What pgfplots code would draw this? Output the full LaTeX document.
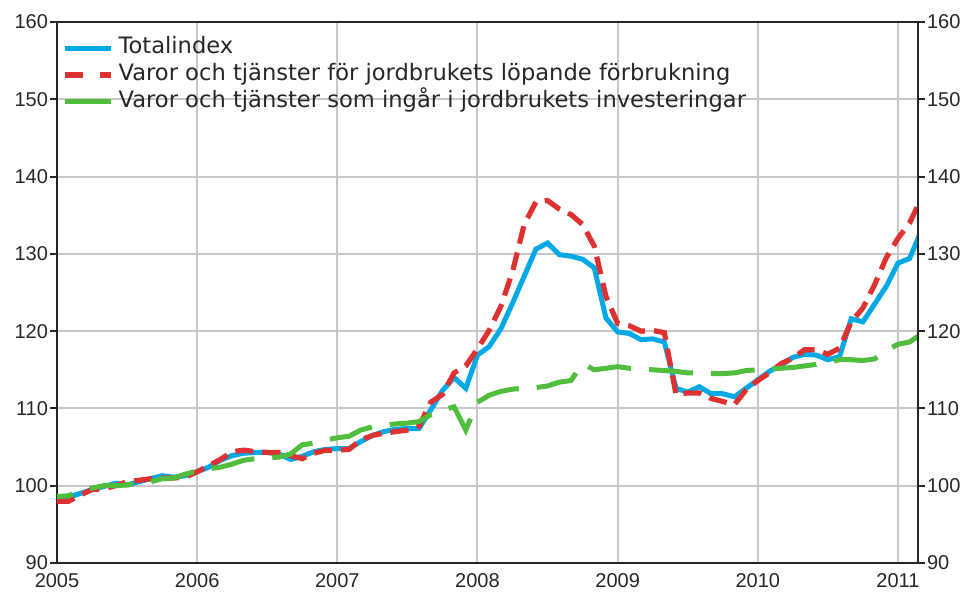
\documentclass[border=0pt]{standalone}
\usepackage{pgfplots}
\pgfplotsset{compat=1.18}
\usepackage{pgfplotstable}
\usepackage{fontspec}
\setmainfont{Liberation Sans}
\newfontfamily\legfont{DejaVu Sans}
\definecolor{cblue}{RGB}{0,168,230}
\definecolor{cred}{RGB}{222,50,50}
\definecolor{cgreen}{RGB}{80,190,60}
\definecolor{cgrid}{RGB}{200,200,200}

% m = month index from January 2005 (0) to March 2011 (74)
\pgfplotstableread{
m total lop inv
0 98.0 98.0 98.6
1 98.5 98.0 98.7
2 99.0 98.8 99.3
3 99.5 99.5 99.7
4 99.9 99.6 100.0
5 100.3 100.0 100.0
6 100.1 100.5 100.1
7 100.5 100.7 100.3
8 100.9 100.9 100.5
9 101.3 101.0 100.9
10 101.1 101.0 101.0
11 101.3 101.1 101.5
12 101.8 101.8 101.9
13 102.4 102.6 102.2
14 103.3 103.4 102.4
15 103.9 104.4 102.8
16 104.2 104.6 103.3
17 104.3 104.4 103.5
18 104.3 104.3 103.6
19 104.1 104.3 103.7
20 103.4 103.9 104.1
21 103.8 103.5 105.3
22 104.4 104.2 105.5
23 104.7 104.6 105.9
24 104.8 104.6 106.2
25 104.8 104.7 106.4
26 105.7 105.9 107.2
27 106.5 106.5 107.6
28 107.0 106.8 107.8
29 107.3 107.0 108.0
30 107.4 107.2 108.1
31 107.4 107.7 108.3
32 109.8 110.8 109.2
33 112.3 111.8 109.8
34 114.0 114.6 110.2
35 112.6 115.5 107.2
36 116.9 117.7 110.8
37 118.0 120.1 111.7
38 120.3 123.2 112.2
39 123.6 127.7 112.5
40 127.1 133.8 112.6
41 130.6 136.7 112.7
42 131.4 136.9 112.9
43 129.9 135.8 113.4
44 129.7 135.1 113.6
45 129.3 133.8 115.8
46 128.2 131.0 115.0
47 121.7 124.5 115.2
48 119.9 121.0 115.4
49 119.7 120.7 115.2
50 118.9 120.0 115.1
51 119.0 120.1 115.0
52 118.6 119.8 114.9
53 112.6 111.8 114.8
54 112.1 112.0 114.6
55 112.8 112.0 114.6
56 111.9 111.3 114.5
57 111.9 110.9 114.5
58 111.5 110.5 114.6
59 112.6 112.4 114.9
60 113.7 113.6 115.0
61 114.8 114.6 115.1
62 115.6 115.8 115.2
63 116.6 116.5 115.3
64 117.0 117.6 115.5
65 116.9 117.6 115.7
66 116.3 117.0 116.0
67 116.7 117.8 116.3
68 121.6 121.2 116.3
69 121.2 123.0 116.2
70 123.5 126.0 116.4
71 125.8 129.5 117.5
72 128.8 132.0 118.3
73 129.4 134.0 118.6
74 133.0 137.2 119.6
}\data

\pgfplotsset{
  common/.style={
    scale only axis, width=430.5pt, height=270.5pt,
    xmin=2005, xmax=2011.143, ymin=90, ymax=160,
    ytick={90,100,...,160},
    /pgf/number format/1000 sep={},
    /pgf/number format/assume math mode=true,
    ticklabel style={font=\fontsize{10}{12}\selectfont, text=black!85},
    tick align=outside, major tick length=3.5pt,
    tick style={black!85, line width=1pt},
    axis line style={black!85, line width=1pt},
  }
}

\begin{document}
\begin{tikzpicture}
\begin{axis}[common,
  xtick={2005,2006,...,2011},
  ytick pos=left,
  xtick style={draw=none},
  xticklabel shift=-2pt,
  yticklabel shift=-2.5pt,
  grid=major, major grid style={cgrid, line width=1pt},
  legend style={at={(0,1)}, anchor=north west, xshift=2.5pt, yshift=-6.2pt,
    draw=none, fill=none, inner xsep=0pt, inner ysep=0pt,
    font=\legfont\fontsize{11.3}{13.6}\selectfont, row sep=0pt, column sep=2.5pt,
    nodes={inner sep=0pt, text height=9.4pt, text depth=4.0pt, text=black!85}},
  legend cell align=left,
  legend image code/.code={\draw[#1] (0pt,0pt) -- (23pt,0pt);},
]
\addlegendimage{cblue, line width=2.5pt}
\addlegendentry{Totalindex}
\addlegendimage{cred, line width=2.6pt, dash pattern=on 9pt off 8.5pt}
\addlegendentry{Varor och tjänster för jordbrukets löpande förbrukning}
\addlegendimage{cgreen, line width=2.5pt}
\addlegendentry{Varor och tjänster som ingår i jordbrukets investeringar}

\addplot[cblue, line width=2.5pt, forget plot] table[x expr=2005+\thisrow{m}/12, y=total] {\data};
\addplot[cred, line width=2.6pt, dash pattern=on 9pt off 4.5pt, forget plot] table[x expr=2005+\thisrow{m}/12, y=lop] {\data};
\addplot[cgreen, line width=2.5pt, dash pattern=on 22pt off 9pt, dash phase=14pt, forget plot] table[x expr=2005+\thisrow{m}/12, y=inv] {\data};
\end{axis}
\begin{axis}[common,
  hide x axis,
  axis y line*=right,
  ytick pos=right,
  yticklabel shift=-2.5pt,
]
\addplot[draw=none] coordinates {(2005,90)};
\end{axis}
\path ([xshift=-28.5pt,yshift=-14pt]current axis.south west) rectangle ([xshift=25.5pt,yshift=11pt]current axis.north east);
\end{tikzpicture}
\end{document}
